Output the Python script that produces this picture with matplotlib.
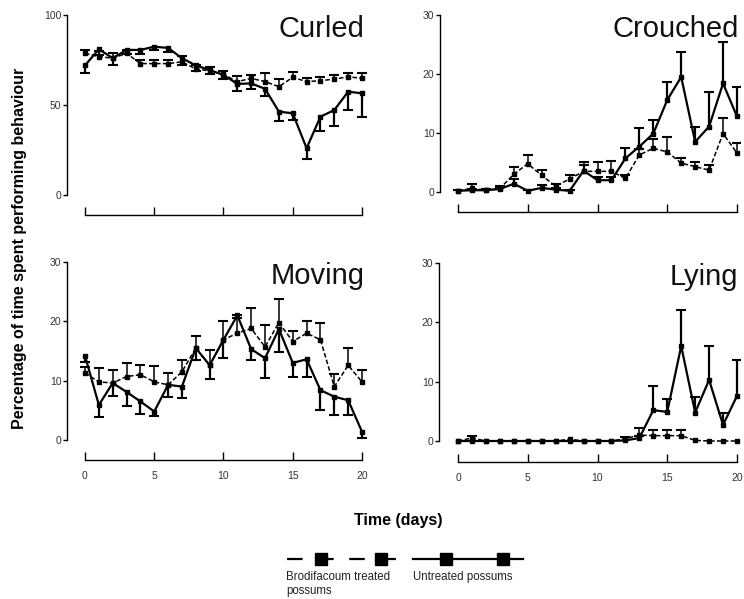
import matplotlib
matplotlib.use('Agg')
import matplotlib.pyplot as plt
from matplotlib.lines import Line2D
import numpy as np

plt.rcParams['font.family'] = ['Liberation Sans', 'DejaVu Sans']

days = np.arange(21)

# Curled
curled_treated = [78.7, 76.9, 76.0, 78.7, 73.0, 73.0, 73.0, 74.0, 70.0, 69.0, 67.0,
                  63.0, 64.8, 63.0, 60.2, 65.4, 63.0, 63.5, 64.4, 65.7, 64.8]
curled_treated_err = [2, 3, 3, 2, 2, 2, 2, 3, 2, 2, 2, 3, 2, 5, 4, 3, 2, 2, 2, 2, 3]
curled_untreated = [72.0, 81.0, 76.0, 80.6, 80.6, 82.4, 81.7, 76.0, 72.0, 69.4, 66.7,
                    61.7, 62.0, 59.0, 46.3, 45.4, 26.0, 43.5, 47.2, 57.4, 56.5]
curled_untreated_err = [4, 3, 4, 2, 2, 2, 2, 4, 3, 2, 2, 4, 3, 4, 5, 4, 6, 8, 9, 10, 13]

# Crouched
crouched_treated = [0.2, 0.6, 0.3, 0.6, 3.0, 4.8, 2.8, 1.0, 2.2, 3.5, 3.5,
                    3.5, 2.3, 6.3, 7.4, 6.8, 4.9, 4.3, 3.7, 9.9, 6.6]
crouched_treated_err = [0.1, 0.8, 0.2, 0.4, 1.2, 1.5, 1.0, 0.4, 0.6, 1.5, 1.5,
                        1.8, 0.5, 1.0, 1.5, 2.6, 0.9, 0.8, 0.8, 2.6, 1.7]
crouched_untreated = [0.2, 0.3, 0.3, 0.5, 1.4, 0.2, 0.7, 0.4, 0.2, 3.6, 2.0,
                      2.0, 5.7, 7.7, 9.9, 15.6, 19.5, 8.5, 11.1, 18.4, 12.8]
crouched_untreated_err = [0.1, 0.2, 0.2, 0.3, 0.8, 0.2, 0.5, 0.3, 0.2, 1.0, 0.5,
                          0.5, 1.7, 3.1, 2.3, 3.1, 4.3, 2.6, 5.9, 7.1, 5.0]

# Moving
moving_treated = [11.3, 9.8, 9.6, 10.7, 11.0, 9.8, 9.3, 11.5, 15.5, 12.6, 16.9,
                  18.0, 18.8, 15.7, 19.8, 16.6, 18.0, 16.9, 9.0, 12.6, 9.8]
moving_treated_err = [1.0, 2.3, 2.2, 2.2, 1.7, 2.6, 2.0, 2.0, 2.0, 2.5, 3.2,
                      3.0, 3.4, 3.7, 4.0, 1.7, 2.0, 2.8, 2.2, 2.9, 2.0]
moving_untreated = [14.2, 5.9, 9.6, 8.1, 6.5, 4.8, 9.3, 9.0, 15.5, 12.6, 16.9,
                    21.0, 15.3, 13.8, 18.7, 13.0, 13.6, 8.4, 7.3, 6.7, 1.4]
moving_untreated_err = [1.0, 2.0, 2.2, 2.4, 2.1, 0.8, 2.0, 2.0, 2.0, 2.3, 3.0,
                        0.5, 1.8, 3.4, 3.8, 2.3, 2.9, 3.3, 3.1, 2.5, 1.0]

# Lying
lying_treated = [0, 0.5, 0, 0, 0, 0, 0, 0, 0.3, 0, 0,
                 0, 0.4, 1.0, 0.9, 0.9, 0.9, 0.1, 0, 0, 0]
lying_treated_err = [0, 0.3, 0, 0, 0, 0, 0, 0, 0, 0, 0,
                     0, 0.3, 1.2, 0.9, 0.9, 0.9, 0, 0, 0, 0]
lying_untreated = [0, 0, 0, 0, 0, 0, 0, 0, 0, 0, 0,
                   0, 0.1, 0.5, 5.2, 4.9, 16.0, 4.8, 10.3, 2.7, 7.6]
lying_untreated_err = [0, 0, 0, 0, 0, 0, 0, 0, 0, 0, 0,
                       0, 0, 0.3, 4.0, 2.1, 6.1, 2.7, 5.7, 2.1, 6.0]

W, H = 744.0, 599.0
fig = plt.figure(figsize=(W / 100, H / 100), dpi=100)


def pix_axes(left, right, top, bottom):
    return fig.add_axes([left / W, 1 - bottom / H, (right - left) / W, (bottom - top) / H])


def errs(ax, x, y, e, direction, lw):
    # one-sided error bars, like the original figure
    x = np.asarray(x, float)
    y = np.asarray(y, float)
    e = np.asarray(e, float)
    m = e > 0
    end = y + e if direction == 'up' else y - e
    ax.vlines(x[m], y[m], end[m], color='k', lw=lw, zorder=3)
    ax.plot(x[m], end[m], ls='none', marker='_', ms=6.5, mew=1.5, color='k', zorder=3)


panels = [
    # title, treated, err, dir, untreated, err, dir, ymax, yticks, axes box (px), x0/x20 px, zero px, x labels
    ('Curled', curled_treated, curled_treated_err, 'up', curled_untreated, curled_untreated_err, 'down',
     100, [0, 50, 100], (67, 366, 15, 215), (85, 362), 195, False),
    ('Crouched', crouched_treated, crouched_treated_err, 'up', crouched_untreated, crouched_untreated_err, 'up',
     30, [0, 10, 20, 30], (440, 740, 15, 212), (458, 737), 192, False),
    ('Moving', moving_treated, moving_treated_err, 'up', moving_untreated, moving_untreated_err, 'down',
     30, [0, 10, 20, 30], (67, 366, 262, 460), (85, 362), 440, True),
    ('Lying', lying_treated, lying_treated_err, 'up', lying_untreated, lying_untreated_err, 'up',
     30, [0, 10, 20, 30], (439, 740, 263, 462), (458, 737), 441, True),
]

for (title, tr, tre, tdir, un, une, udir, ymax, yt, box, xpix, zero_pix, xl) in panels:
    left, right, top, bottom = box
    ax = pix_axes(left, right, top, bottom)
    perday = (xpix[1] - xpix[0]) / 20.0
    ax.set_xlim(-(xpix[0] - left) / perday, 20 + (right - xpix[1]) / perday)
    perunit = (zero_pix - top) / ymax
    ax.set_ylim(-(bottom - zero_pix) / perunit, ymax)

    ax.plot(days, tr, color='k', lw=1.1, ls=(0, (3, 1.5)), marker='s', ms=3.5, zorder=4)
    ax.plot(days, un, color='k', lw=1.6, ls='-', marker='s', ms=3.5, zorder=4)
    errs(ax, days, tr, tre, tdir, 1.1)
    errs(ax, days, un, une, udir, 1.6)

    for s in ['top', 'right']:
        ax.spines[s].set_visible(False)
    ax.spines['left'].set_bounds(0, ymax)
    ax.spines['bottom'].set_bounds(0, 20)
    ax.spines['left'].set_linewidth(1.0)
    ax.spines['bottom'].set_linewidth(1.0)
    ax.set_yticks(yt)
    ax.set_xticks([0, 5, 10, 15, 20])
    ax.tick_params(axis='y', direction='out', length=3, width=1, labelsize=7.5,
                   labelcolor='#333333', pad=1)
    ax.tick_params(axis='x', direction='in', length=6, width=1, labelsize=7.5,
                   labelcolor='#333333', pad=8, labelbottom=xl)
    ax.text(0.995, 1.0, title, transform=ax.transAxes, ha='right', va='top',
            fontsize=21, color='#111111')

fig.text(20 / W, 1 - 248 / H, 'Percentage of time spent performing behaviour',
         rotation=90, ha='center', va='center', fontsize=11.5, fontweight='bold')
fig.text(398 / W, 1 - 521 / H, 'Time (days)', ha='center', va='center',
         fontsize=11.5, fontweight='bold')

# legend drawn by hand
ly = 1 - 559 / H
fig.add_artist(Line2D([287 / W, 397 / W], [ly, ly], color='k', lw=1.6,
                      ls=(0, (7, 7)), transform=fig.transFigure))
fig.add_artist(Line2D([321 / W, 381 / W], [ly, ly], color='k', ls='none', marker='s',
                      ms=9, transform=fig.transFigure))
fig.add_artist(Line2D([413 / W, 523 / W], [ly, ly], color='k', lw=1.6,
                      transform=fig.transFigure))
fig.add_artist(Line2D([446 / W, 503 / W], [ly, ly], color='k', ls='none', marker='s',
                      ms=9, transform=fig.transFigure))
fig.text(286 / W, 1 - 577 / H, 'Brodifacoum treated', ha='left', va='center',
         fontsize=8.3, color='#222222')
fig.text(286 / W, 1 - 591 / H, 'possums', ha='left', va='center',
         fontsize=8.3, color='#222222')
fig.text(413 / W, 1 - 577 / H, 'Untreated possums', ha='left', va='center',
         fontsize=8.3, color='#222222')

fig.savefig('out.png', dpi=100)
